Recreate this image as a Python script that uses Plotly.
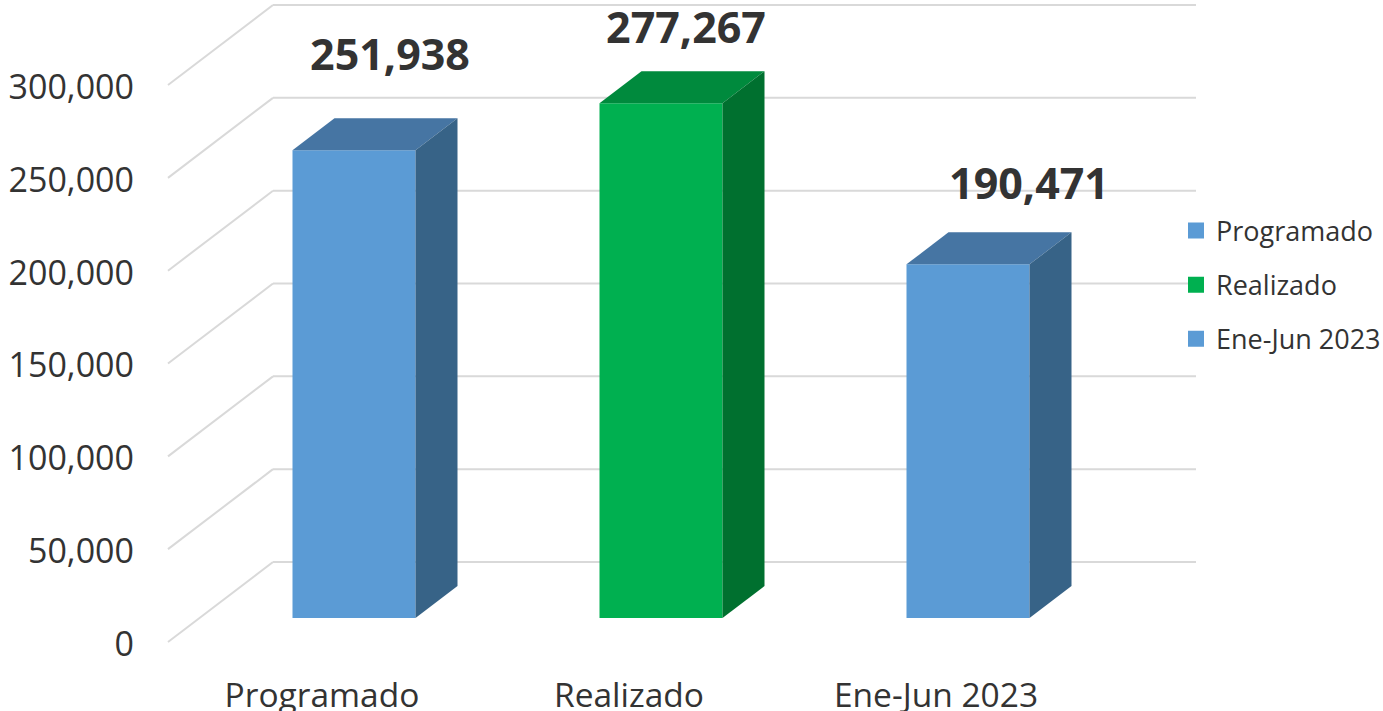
import plotly.graph_objects as go

categories = ["Programado", "Realizado", "Ene-Jun 2023"]
values = [251938, 277267, 190471]
tick_values = [0, 50000, 100000, 150000, 200000, 250000, 300000]
front_colors = ["#5B9BD5", "#00B050", "#5B9BD5"]
top_colors = ["#4675A3", "#008A3D", "#4675A3"]
side_colors = ["#376387", "#00702F", "#376387"]

W, H = 1383, 711
FONT = "Open Sans"
TEXT = "#333333"
M_L, M_B = 135, 39
PX_Y0 = 642              # pixel row of value 0 on front edge
U = 50000 / 92.83        # value per pixel
PX_X0 = 322              # pixel column of first category label
XU = 1 / 307             # category units per pixel

def dx(px):
    return px * XU

def dy(px):
    return px * U

x_range = [(M_L - PX_X0) * XU, (W - PX_X0) * XU]
y_range = [-(H - M_B - PX_Y0) * U, PX_Y0 * U]

BAR_SHIFT = dx(32)
BAR_W = dx(123)
BASE = dy(24)
D_X, D_Y = dx(42), dy(32)       # bar depth
W_LEFT, W_BACK, W_END = dx(168 - PX_X0), dx(273 - PX_X0), dx(1196 - PX_X0)
W_RISE = dy(80)
LABEL_DX = [dx(36), dx(25), dx(61)]
LABEL_RISE = [dy(91), dy(71), dy(76)]

fig = go.Figure()

for i, (c, v) in enumerate(zip(categories, values)):
    fig.add_trace(go.Bar(
        x=[i + BAR_SHIFT], y=[v], base=[BASE], width=[BAR_W], name=c,
        marker=dict(color=front_colors[i], line=dict(width=0)),
        showlegend=False, hoverinfo="skip"))
    fig.add_trace(go.Scatter(
        x=[None], y=[None], mode="markers", name=c, legendgroup=c,
        marker=dict(symbol="square", size=16, color=front_colors[i], line=dict(width=0)),
        showlegend=True, hoverinfo="skip"))

for i, v in enumerate(values):
    l = i + BAR_SHIFT - BAR_W / 2
    r = i + BAR_SHIFT + BAR_W / 2
    top = BASE + v
    fig.add_trace(go.Scatter(
        x=[l, r, r + D_X, l + D_X, l], y=[top, top, top + D_Y, top + D_Y, top],
        mode="lines", fill="toself", fillcolor=top_colors[i], line=dict(width=0),
        showlegend=False, hoverinfo="skip"))
    fig.add_trace(go.Scatter(
        x=[r, r + D_X, r + D_X, r, r], y=[BASE, BASE + D_Y, top + D_Y, top, BASE],
        mode="lines", fill="toself", fillcolor=side_colors[i], line=dict(width=0),
        showlegend=False, hoverinfo="skip"))

fig.add_trace(go.Scatter(
    x=[i + BAR_SHIFT + LABEL_DX[i] for i in range(3)],
    y=[BASE + v + LABEL_RISE[i] for i, v in enumerate(values)],
    mode="text", text=[f"{v:,}" for v in values], textposition="middle center",
    textfont=dict(family=FONT, size=43, color=TEXT, weight="bold"),
    showlegend=False, hoverinfo="skip", cliponaxis=False))

shapes = []
grid = dict(color="#D9D9D9", width=2)
for t in tick_values:
    shapes.append(dict(type="line", layer="below", xref="x", yref="y",
                       x0=W_LEFT, y0=t, x1=W_BACK, y1=t + W_RISE, line=grid))
    shapes.append(dict(type="line", layer="below", xref="x", yref="y",
                       x0=W_BACK, y0=t + W_RISE, x1=W_END, y1=t + W_RISE, line=grid))

fig.update_layout(
    width=W, height=H, autosize=False,
    margin=dict(l=M_L, r=0, t=0, b=M_B, pad=0, autoexpand=False),
    paper_bgcolor="white", plot_bgcolor="white",
    shapes=shapes, barmode="overlay",
    xaxis=dict(range=x_range, tickmode="array", tickvals=[0, 1, 2], ticktext=categories,
               showgrid=False, zeroline=False, showline=False, ticks="", automargin=False,
               tickfont=dict(family=FONT, size=33.5, color=TEXT)),
    yaxis=dict(range=y_range, tickmode="array", tickvals=tick_values,
               ticktext=[f"{t:,}" for t in tick_values],
               showgrid=False, zeroline=False, showline=False, ticks="", automargin=False,
               ticklabelshift=2,
               tickfont=dict(family=FONT, size=34, color=TEXT)),
    legend=dict(x=(1176 - M_L) / (W - M_L), y=1 - 285 / (H - M_B), xanchor="left", yanchor="middle",
                font=dict(family=FONT, size=27, color=TEXT), bgcolor="rgba(0,0,0,0)",
                traceorder="grouped", itemwidth=30, tracegroupgap=16, itemclick=False),
    showlegend=True,
)
fig.write_html("out.html", config=dict(displayModeBar=False),
               post_script="document.body.style.margin='0';")
